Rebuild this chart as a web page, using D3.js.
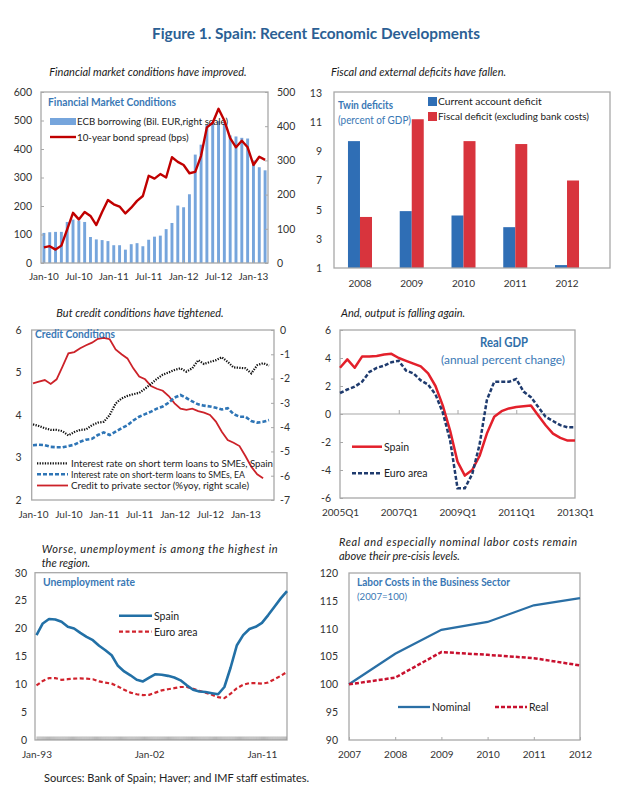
<!DOCTYPE html>
<html><head><meta charset="utf-8">
<script src="https://cdn.jsdelivr.net/npm/d3@7"></script>
<style>
body{margin:0;background:#fff}
svg text{font-family:Lato,"Noto Sans",sans-serif}
</style>
</head><body>
<svg id="c" width="620" height="806"></svg>
<script>
// ---------------- DATA ----------------
// Panel 1: Financial market conditions (monthly, Jan-10 .. Mar-13)
const ecbBorrowing = [88,90,91,91,120,127,124,120,76,69,67,64,52,52,39,55,58,49,68,77,80,99,117,168,163,201,317,346,405,412,415,408,373,370,366,364,300,280,271];
const bondSpread   = [55,59,47,61,118,176,153,179,165,133,179,221,206,198,174,194,218,235,306,296,312,300,371,355,344,315,320,376,476,492,541,500,438,406,429,406,344,373,362];
const monthTickIdx = [0,6,12,18,24,30,36];
const monthTickLabels = ["Jan-10","Jul-10","Jan-11","Jul-11","Jan-12","Jul-12","Jan-13"];
const finLeftTicks = [0,100,200,300,400,500,600];
const finRightTicks = [0,100,200,300,400,500];

// Panel 2: Twin deficits
const deficitYears = ["2008","2009","2010","2011","2012"];
const currentAccountDeficit = [9.7,4.9,4.6,3.8,1.2];
const fiscalDeficit = [4.5,11.2,9.7,9.5,7.0];
const deficitTicks = [1,3,5,7,9,11,13];

// Panel 3: Credit conditions (monthly from Jan-10)
const smeRateSpain = [3.78,3.74,3.69,3.65,3.65,3.62,3.52,3.6,3.65,3.66,3.76,3.82,3.84,4.0,4.27,4.39,4.45,4.49,4.52,4.62,4.73,4.85,4.95,5.0,5.06,5.1,5.02,5.1,5.29,5.2,5.25,5.29,5.36,5.25,5.12,5.11,5.1,4.98,5.17,5.22,5.16];
const smeRateEA = [3.29,3.3,3.29,3.25,3.24,3.24,3.27,3.3,3.37,3.42,3.44,3.53,3.59,3.53,3.61,3.69,3.76,3.87,3.96,4.02,4.08,4.15,4.2,4.29,4.41,4.47,4.4,4.32,4.25,4.22,4.2,4.17,4.13,4.16,4.02,3.96,3.96,3.86,3.82,3.84,3.88];
const creditPrivate = [-2.2,-2.13,-2.06,-2.22,-2.03,-1.51,-0.96,-0.91,-0.75,-0.63,-0.52,-0.36,-0.32,-0.38,-0.8,-1.0,-1.17,-1.58,-1.92,-2.03,-2.31,-2.42,-2.5,-2.72,-3.02,-3.24,-3.29,-3.24,-3.34,-3.4,-3.5,-3.77,-4.19,-4.53,-4.64,-4.78,-5.19,-5.63,-5.94,-6.1];
const creditLeftTicks = [2,3,4,5,6];
const creditRightTicks = [0,-1,-2,-3,-4,-5,-6,-7];

// Panel 4: Real GDP (quarterly 2005Q1 .. 2013Q1)
const gdpSpain = [3.3,3.9,3.3,4.1,4.1,4.15,4.25,4.3,4.0,3.8,3.6,3.4,2.9,2.0,0.6,-1.2,-3.4,-4.4,-4.0,-3.0,-1.4,-0.2,0.2,0.4,0.5,0.55,0.6,-0.1,-0.8,-1.4,-1.7,-1.9,-1.9];
const gdpEuro  = [1.5,1.75,1.95,2.3,3.0,3.3,3.45,3.7,3.8,3.1,2.9,2.4,2.1,1.4,0.1,-1.9,-5.3,-5.3,-4.3,-2.2,1.0,2.3,2.3,2.3,2.5,1.6,1.2,0.5,-0.2,-0.5,-0.8,-0.95,-0.95];
const gdpTickIdx = [0,8,16,24,32];
const gdpTickLabels = ["2005Q1","2007Q1","2009Q1","2011Q1","2013Q1"];
const gdpTicks = [-6,-4,-2,0,2,4,6];

// Panel 5: Unemployment rate (semi-annual readings)
const unempTime = [1993,1993.5,1994,1994.5,1995,1995.5,1996,1996.5,1997,1997.5,1998,1998.5,1999,1999.5,2000,2000.5,2001,2001.5,2002,2002.5,2003,2003.5,2004,2004.5,2005,2005.5,2006,2006.5,2007,2007.5,2008,2008.5,2009,2009.5,2010,2010.5,2011,2011.5,2012,2012.5,2013];
const unempSpain = [18.8,20.9,21.7,21.6,21.2,20.3,20.0,19.2,18.5,17.9,16.9,16.1,15.2,13.3,12.3,11.6,10.8,10.5,11.2,11.8,11.7,11.5,11.2,10.7,9.8,9.0,8.7,8.6,8.4,8.2,9.5,13.0,17.0,18.8,19.9,20.3,21.0,22.4,23.9,25.4,26.7];
const unempEuro  = [9.8,10.6,11.1,11.1,10.8,10.9,11.0,11.05,11.0,10.9,10.5,10.3,10.1,9.6,9.0,8.5,8.2,8.05,8.1,8.5,8.9,9.1,9.3,9.5,9.5,9.2,8.8,8.5,8.1,7.7,7.5,8.3,9.3,9.9,10.2,10.2,10.1,10.3,10.9,11.5,12.2];
const unempTickYears = [1993,2002,2011];
const unempTickLabels = ["Jan-93","Jan-02","Jan-11"];
const unempTicks = [0,5,10,15,20,25,30];

// Panel 6: Labor costs (2007=100)
const laborYears = [2007,2008,2009,2010,2011,2012];
const laborNominal = [100,105.5,109.8,111.2,114.2,115.5];
const laborReal = [100,101.2,105.8,105.3,104.7,103.4];
const laborTicks = [90,95,100,105,110,115,120];

// ---------------- DRAWING ----------------
const svg = d3.select("#c");
const BORDER = "#a8a8a8", TICKC = "#a8a8a8", LABC = "#333", TITLEC = "#3a78b5";
const plain = d => String(d);

function fit(sel, w, mode){
  const n = sel.node();
  if (n.getComputedTextLength() > w || mode==="exact") {
    sel.attr("textLength", w).attr("lengthAdjust", mode==="exact" ? "spacing" : "spacingAndGlyphs");
  }
  return sel;
}
function txt(x,y,s,opts={}){
  const t = svg.append("text").attr("x",x).attr("y",y).text(s)
    .attr("font-size", opts.size||10.5).attr("fill", opts.fill||LABC)
    .attr("text-anchor", opts.anchor||"start");
  if (opts.bold) t.attr("font-weight",700);
  if (opts.italic) t.attr("font-style","italic");
  if (opts.w) fit(t, opts.w, opts.mode);
  return t;
}
function box(x0,y0,x1,y1){
  svg.append("rect").attr("x",x0).attr("y",y0).attr("width",x1-x0).attr("height",y1-y0)
    .attr("fill","none").attr("stroke",BORDER).attr("stroke-width",1.3);
}
function styleAxis(g, fs){
  g.select(".domain").remove();
  g.selectAll(".tick line").attr("stroke",TICKC);
  g.selectAll(".tick text").attr("fill",LABC).attr("font-size",fs||10.5)
    .attr("font-family","Lato, 'Noto Sans', sans-serif");
  return g;
}

// Title
txt(316,39,"Figure 1. Spain: Recent Economic Developments",{size:15.5,bold:true,fill:"#2b5f94",anchor:"middle",w:328});

// ===== Panel 1 =====
{
  const L=41,R=268,T=92,B=263;
  txt(148,76,"Financial market conditions have improved.",{size:11,italic:true,fill:"#1a1a1a",anchor:"middle",w:220});
  const x = d3.scaleBand().domain(d3.range(ecbBorrowing.length)).range([L,R]).paddingInner(0.5).paddingOuter(0.25);
  const yL = d3.scaleLinear().domain([0,600]).range([B,T]);
  const yR = d3.scaleLinear().domain([0,500]).range([B,T]);
  svg.append("g").selectAll("rect").data(ecbBorrowing).join("rect")
    .attr("x",(d,i)=>x(i)).attr("width",x.bandwidth())
    .attr("y",d=>yR(d)).attr("height",d=>yR(0)-yR(d)).attr("fill","#76a5dc");
  txt(48,106,"Financial Market Conditions",{size:11,bold:true,fill:TITLEC,w:128});
  svg.append("rect").attr("x",50).attr("y",118).attr("width",26).attr("height",7).attr("fill","#76a5dc");
  txt(77,125,"ECB borrowing (Bil. EUR,right scale)",{size:9.8,fill:"#222",w:151});
  svg.append("line").attr("x1",50).attr("x2",76).attr("y1",137).attr("y2",137).attr("stroke","#c00000").attr("stroke-width",2.4);
  txt(77,140.5,"10-year bond spread (bps)",{size:9.8,fill:"#222",w:114});
  svg.append("path").datum(bondSpread)
    .attr("d",d3.line().x((d,i)=>x(i)+x.bandwidth()/2).y(d=>yL(d)))
    .attr("fill","none").attr("stroke","#c00000").attr("stroke-width",2.4).attr("stroke-linejoin","round");
  box(L,T,R,B);
  styleAxis(svg.append("g").attr("transform",`translate(${L},0)`)
    .call(d3.axisLeft(yL).tickValues(finLeftTicks).tickFormat(plain).tickSize(-3).tickPadding(9)));
  styleAxis(svg.append("g").attr("transform",`translate(${R},0)`)
    .call(d3.axisRight(yR).tickValues(finRightTicks).tickFormat(plain).tickSize(-3).tickPadding(9)));
  styleAxis(svg.append("g").attr("transform",`translate(0,${B})`)
    .call(d3.axisBottom(x).tickValues(monthTickIdx).tickFormat((d,i)=>monthTickLabels[i]).tickSize(-3).tickPadding(10)),10);
}

// ===== Panel 2 =====
{
  const L=334,R=610,T=92,B=268;
  txt(331,76,"Fiscal and external deficits have fallen.",{size:11,italic:true,fill:"#1a1a1a",w:192});
  const x = d3.scaleBand().domain(deficitYears).range([334.1,592.9]).paddingInner(0.536).paddingOuter(0.268);
  const xs = d3.scaleBand().domain(["ca","fd"]).range([0,x.bandwidth()]);
  const y = d3.scaleLinear().domain([1,13]).range([B,T+1]);
  const g = svg.append("g");
  g.selectAll(".ca").data(currentAccountDeficit).join("rect")
    .attr("x",(d,i)=>x(deficitYears[i])+xs("ca")).attr("width",xs.bandwidth())
    .attr("y",d=>y(d)).attr("height",d=>y(1)-y(d)).attr("fill","#2f6eb5");
  g.selectAll(".fd").data(fiscalDeficit).join("rect")
    .attr("x",(d,i)=>x(deficitYears[i])+xs("fd")).attr("width",xs.bandwidth())
    .attr("y",d=>y(d)).attr("height",d=>y(1)-y(d)).attr("fill","#d8343d");
  box(L,T,R,B);
  txt(338,109,"Twin deficits",{size:11,bold:true,fill:TITLEC,w:55});
  txt(338,124,"(percent of GDP)",{size:10.5,fill:TITLEC,w:73});
  svg.append("rect").attr("x",428).attr("y",97).attr("width",9).attr("height",9).attr("fill","#2f6eb5");
  txt(438,105,"Current account deficit",{size:10.3,fill:"#222",w:110});
  svg.append("rect").attr("x",428).attr("y",112).attr("width",9).attr("height",9).attr("fill","#d8343d");
  txt(438,120,"Fiscal deficit (excluding bank costs)",{size:10.3,fill:"#222",w:151});
  styleAxis(svg.append("g").attr("transform",`translate(${L},0)`)
    .call(d3.axisLeft(y).tickValues(deficitTicks).tickFormat(plain).tickSize(0).tickPadding(12)));
  styleAxis(svg.append("g").attr("transform",`translate(0,${B})`)
    .call(d3.axisBottom(x).tickSize(0).tickPadding(12)),10);
}

// ===== Panel 3 =====
{
  const L=31.7,R=274,T=330,B=500;
  txt(140,317,"But credit conditions have tightened.",{size:11,italic:true,fill:"#1a1a1a",anchor:"middle",w:182});
  const x = d3.scaleLinear().domain([0,40]).range([33,269]);
  const yL = d3.scaleLinear().domain([2,6]).range([B,T]);
  const yR = d3.scaleLinear().domain([-7,0]).range([B,T]);
  box(L,T,R,B);
  const line = (ys)=>d3.line().x((d,i)=>x(i)).y(d=>ys(d));
  svg.append("path").datum(creditPrivate).attr("d",line(yR))
    .attr("fill","none").attr("stroke","#cc2229").attr("stroke-width",1.8);
  svg.append("path").datum(smeRateEA).attr("d",line(yL))
    .attr("fill","none").attr("stroke","#2e75b6").attr("stroke-width",2.6).attr("stroke-dasharray","4,2");
  svg.append("path").datum(smeRateSpain).attr("d",line(yL))
    .attr("fill","none").attr("stroke","#111").attr("stroke-width",2.2).attr("stroke-dasharray","1.3,1.3");
  txt(35,338,"Credit Conditions",{size:11,bold:true,fill:TITLEC,w:80});
  const leg = [
    {y:463.3, t:"Interest rate on short term loans to SMEs, Spain", w:202, s:"#111", sw:2.2, da:"1.3,1.3"},
    {y:474.3, t:"Interest rate on short-term loans to SMEs, EA", w:174, s:"#2e75b6", sw:2.6, da:"4,2"},
    {y:485.5, t:"Credit to private sector (%yoy, right scale)", w:178, s:"#cc2229", sw:1.8, da:null}
  ];
  leg.forEach(l=>{
    const ln = svg.append("line").attr("x1",37).attr("x2",68).attr("y1",l.y).attr("y2",l.y)
      .attr("stroke",l.s).attr("stroke-width",l.sw);
    if (l.da) ln.attr("stroke-dasharray",l.da);
    txt(71,l.y+3.5,l.t,{size:9.8,fill:"#222",w:l.w});
  });
  styleAxis(svg.append("g").attr("transform",`translate(${L},0)`)
    .call(d3.axisLeft(yL).tickValues(creditLeftTicks).tickFormat(plain).tickSize(0).tickPadding(10)));
  styleAxis(svg.append("g").attr("transform",`translate(${R},0)`)
    .call(d3.axisRight(yR).tickValues(creditRightTicks).tickFormat(plain).tickSize(-3).tickPadding(6)));
  styleAxis(svg.append("g").attr("transform",`translate(0,${B})`)
    .call(d3.axisBottom(x).tickValues(monthTickIdx).tickFormat((d,i)=>monthTickLabels[i]).tickSize(0).tickPadding(11)),10);
}

// ===== Panel 4 =====
{
  const L=340,R=575,T=330,B=498;
  txt(341,317,"And, output is falling again.",{size:11,italic:true,fill:"#1a1a1a",w:136});
  const x = d3.scaleLinear().domain([0,32]).range([L,R]);
  const y = d3.scaleLinear().domain([-6,6]).range([B,T]);
  box(L,T,R,B);
  svg.append("line").attr("x1",L).attr("x2",R).attr("y1",y(0)).attr("y2",y(0)).attr("stroke",BORDER).attr("stroke-width",1.2);
  styleAxis(svg.append("g").attr("transform",`translate(0,${y(0)})`)
    .call(d3.axisBottom(x).tickValues(gdpTickIdx.slice(1,4)).tickFormat("").tickSize(-4)));
  const line = d3.line().x((d,i)=>x(i)).y(d=>y(d));
  svg.append("path").datum(gdpSpain).attr("d",line)
    .attr("fill","none").attr("stroke","#e3202b").attr("stroke-width",2.5).attr("stroke-linejoin","round");
  svg.append("path").datum(gdpEuro).attr("d",line)
    .attr("fill","none").attr("stroke","#1f3b6e").attr("stroke-width",2.5).attr("stroke-dasharray","4,2");
  txt(504,347,"Real GDP",{size:13,bold:true,fill:"#2f6ea8",anchor:"middle",w:48});
  txt(503,364,"(annual percent change)",{size:12,fill:"#3a78b5",anchor:"middle",w:124});
  svg.append("line").attr("x1",352).attr("x2",382).attr("y1",446.7).attr("y2",446.7).attr("stroke","#e3202b").attr("stroke-width",2.5);
  txt(384,450.5,"Spain",{size:10.5,fill:"#222"});
  svg.append("line").attr("x1",352).attr("x2",382).attr("y1",473.3).attr("y2",473.3).attr("stroke","#1f3b6e").attr("stroke-width",2.5).attr("stroke-dasharray","4,2");
  txt(384,477,"Euro area",{size:10.5,fill:"#222"});
  styleAxis(svg.append("g").attr("transform",`translate(${L},0)`)
    .call(d3.axisLeft(y).tickValues(gdpTicks).tickFormat(plain).tickSize(-3).tickPadding(9)));
  styleAxis(svg.append("g").attr("transform",`translate(0,${B})`)
    .call(d3.axisBottom(x).tickValues(gdpTickIdx).tickFormat((d,i)=>gdpTickLabels[i]).tickSize(0).tickPadding(11)),10);
}

// ===== Panel 5 =====
{
  const L=35,R=287,T=572.7,B=740;
  txt(41.7,553,"Worse, unemployment  is among the highest in",{size:11,italic:true,fill:"#1a1a1a",w:236,mode:"exact"});
  txt(41.7,567,"the region.",{size:11,italic:true,fill:"#1a1a1a",w:50});
  const x = d3.scaleLinear().domain([1993,2013]).range([36.5,287]);
  const y = d3.scaleLinear().domain([0,30]).range([B,T]);
  box(L,T,R,B);
  const mt = d3.range(0,240).map(m=>1993+m/12);
  const mg = styleAxis(svg.append("g").attr("transform",`translate(0,${B})`)
    .call(d3.axisBottom(x).tickValues(mt).tickFormat("").tickSize(-3.5)));
  mg.selectAll(".tick line").attr("stroke","#9a9a9a").attr("stroke-width",0.7);
  const line = (arr)=>d3.line().x((d,i)=>x(unempTime[i])).y(d=>y(d))(arr);
  svg.append("path").attr("d",line(unempEuro))
    .attr("fill","none").attr("stroke","#d1232d").attr("stroke-width",2.2).attr("stroke-dasharray","4,2.5");
  svg.append("path").attr("d",line(unempSpain))
    .attr("fill","none").attr("stroke","#2270a6").attr("stroke-width",2.6).attr("stroke-linejoin","round");
  txt(43,586,"Unemployment rate",{size:11,bold:true,fill:TITLEC,w:92});
  svg.append("line").attr("x1",119).attr("x2",152).attr("y1",615.7).attr("y2",615.7).attr("stroke","#2270a6").attr("stroke-width",2.6);
  txt(154,619.5,"Spain",{size:10.5,fill:"#222"});
  svg.append("line").attr("x1",119).attr("x2",152).attr("y1",631.7).attr("y2",631.7).attr("stroke","#d1232d").attr("stroke-width",2.2).attr("stroke-dasharray","4,2.5");
  txt(154,635.5,"Euro area",{size:10.5,fill:"#222"});
  styleAxis(svg.append("g").attr("transform",`translate(${L},0)`)
    .call(d3.axisLeft(y).tickValues(unempTicks).tickFormat(plain).tickSize(0).tickPadding(8)));
  styleAxis(svg.append("g").attr("transform",`translate(0,${B})`)
    .call(d3.axisBottom(x).tickValues(unempTickYears).tickFormat((d,i)=>unempTickLabels[i]).tickSize(0).tickPadding(11)),10);
}

// ===== Panel 6 =====
{
  const L=349,R=580,T=573,B=740;
  txt(339,545.5,"Real and especially  nominal  labor costs remain",{size:11,italic:true,fill:"#1a1a1a",w:238,mode:"exact"});
  txt(339,560,"above their pre-cisis levels.",{size:11,italic:true,fill:"#1a1a1a",w:133});
  const x = d3.scaleLinear().domain([2007,2012]).range([L,R]);
  const y = d3.scaleLinear().domain([90,120]).range([B,T]);
  box(L,T,R,B);
  const line = d3.line().x((d,i)=>x(laborYears[i])).y(d=>y(d));
  svg.append("path").datum(laborNominal).attr("d",line)
    .attr("fill","none").attr("stroke","#2a6fa5").attr("stroke-width",2.3);
  svg.append("path").datum(laborReal).attr("d",line)
    .attr("fill","none").attr("stroke","#c8102e").attr("stroke-width",2.5).attr("stroke-dasharray","4,2");
  txt(357,586,"Labor Costs in the Business Sector",{size:11,bold:true,fill:TITLEC,w:153});
  txt(357,599.5,"(2007=100)",{size:10,fill:TITLEC,w:50});
  svg.append("line").attr("x1",398).attr("x2",430).attr("y1",707).attr("y2",707).attr("stroke","#2a6fa5").attr("stroke-width",2.3);
  txt(432,711,"Nominal",{size:10.5,fill:"#222"});
  svg.append("line").attr("x1",495).attr("x2",527).attr("y1",707).attr("y2",707).attr("stroke","#c8102e").attr("stroke-width",2.5).attr("stroke-dasharray","4,2");
  txt(529,711,"Real",{size:10.5,fill:"#222"});
  styleAxis(svg.append("g").attr("transform",`translate(${L},0)`)
    .call(d3.axisLeft(y).tickValues(laborTicks).tickFormat(plain).tickSize(0).tickPadding(11)));
  styleAxis(svg.append("g").attr("transform",`translate(0,${B})`)
    .call(d3.axisBottom(x).tickValues(laborYears).tickFormat(plain).tickSize(-3).tickPadding(11)),10);
}

// Sources
txt(44,782,"Sources: Bank of Spain; Haver; and IMF staff estimates.",{size:11,fill:"#222",w:287});
</script>
</body></html>
